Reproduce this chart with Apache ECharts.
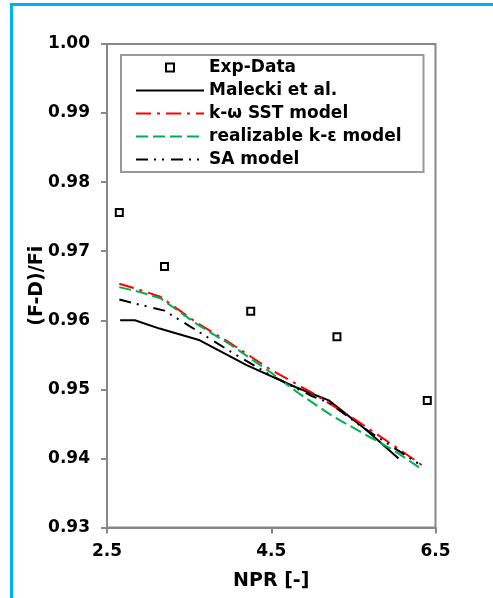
<!DOCTYPE html>
<html>
<head>
<meta charset="utf-8">
<title>(F-D)/Fi vs NPR</title>
<script src="https://cdn.jsdelivr.net/npm/echarts@6/dist/echarts.min.js"></script>
<style>
  html, body { margin: 0; padding: 0; background: #fff; overflow: hidden; }
  #frame { position: absolute; left: 10px; top: 3px; width: 520px; height: 640px;
           border: 3px solid #00b0f0; box-sizing: border-box; pointer-events: none; z-index: 2; }
  #chart { position: absolute; left: 0; top: 0; width: 493px; height: 598px; }
</style>
</head>
<body>
<div id="chart"></div>
<div id="frame"></div>
<script>
// Axis ticks
const xTicks = [2.5, 4.5, 6.5];
const yMin = 0.93, yMax = 1.00, yStep = 0.01;

// Experimental data
const expNPR    = [2.65, 3.2, 4.25, 5.3, 6.4];
const expThrust = [0.9756, 0.9678, 0.9613, 0.9576, 0.9484];

// Malecki et al.
const maleckiNPR    = [2.66, 2.84, 3.14, 3.63, 4.2, 4.8, 5.2, 5.64, 6.05];
const maleckiThrust = [0.9600, 0.9600, 0.9588, 0.9571, 0.9535, 0.9503, 0.9484, 0.9443, 0.9400];

// k-omega SST model
const sstNPR    = [2.65, 2.9, 3.15, 3.6, 4.0, 4.5, 5.0, 5.5, 6.0, 6.35];
const sstThrust = [0.9653, 0.9644, 0.9634, 0.9596, 0.9567, 0.9528, 0.9495, 0.9458, 0.9418, 0.9389];

// realizable k-epsilon model
const rkeNPR    = [2.65, 2.9, 3.15, 3.6, 4.0, 4.5, 4.85, 5.25, 5.7, 6.0, 6.3];
const rkeThrust = [0.9648, 0.9641, 0.9632, 0.9594, 0.9565, 0.9524, 0.9493, 0.9461, 0.9431, 0.9411, 0.9387];

// Spalart-Allmaras model
const saNPR    = [2.65, 2.85, 3.2, 3.5, 4.0, 4.5, 5.0, 5.2, 5.6, 6.0, 6.35];
const saThrust = [0.9630, 0.9624, 0.9614, 0.9592, 0.9555, 0.9520, 0.9490, 0.9481, 0.9446, 0.9415, 0.9388];

const seriesNames = ['Exp-Data', 'Malecki et al.', 'k-ω SST model', 'realizable k-ε model', 'SA model'];

const pair = (xs, ys) => xs.map((x, i) => [x, ys[i]]);

const FONT = '"DejaVu Sans", "Liberation Sans", Arial, sans-serif';
const AXIS_GRAY = '#878787';

const chart = echarts.init(document.getElementById('chart'), null, { renderer: 'canvas' });

chart.setOption({
  animation: false,
  backgroundColor: '#fff',
  textStyle: { fontFamily: FONT },
  grid: {
    left: 107, right: 57.5, top: 44, bottom: 70.5,
    show: true, borderColor: AXIS_GRAY, borderWidth: 2, backgroundColor: 'transparent'
  },
  legend: {
    orient: 'vertical',
    left: 121, top: 55,
    padding: [4, 22, 4, 14],
    borderColor: '#999', borderWidth: 2,
    backgroundColor: '#fff',
    itemWidth: 68, itemHeight: 10, itemGap: 6,
    itemTextGap: 10,
    textStyle: { fontFamily: FONT, fontSize: 17, fontWeight: 'bold', color: '#000', lineHeight: 17 },
    data: [
      { name: seriesNames[0] },
      { name: seriesNames[1], itemStyle: { opacity: 0 } },
      { name: seriesNames[2], itemStyle: { opacity: 0 } },
      { name: seriesNames[3], itemStyle: { opacity: 0 } },
      { name: seriesNames[4], itemStyle: { opacity: 0 } }
    ]
  },
  xAxis: {
    type: 'value',
    min: xTicks[0], max: xTicks[xTicks.length - 1],
    name: 'NPR [-]',
    nameLocation: 'middle', nameGap: 44, nameMoveOverlap: false,
    nameTextStyle: { fontFamily: FONT, fontSize: 19, fontWeight: 'bold', color: '#000' },
    axisLine: { lineStyle: { color: AXIS_GRAY, width: 2 } },
    axisTick: { show: true, inside: false, length: 6, lineStyle: { color: AXIS_GRAY, width: 2 }, customValues: xTicks },
    axisLabel: {
      customValues: xTicks, margin: 16,
      fontFamily: FONT, fontSize: 17, fontWeight: 'bold', color: '#000',
      formatter: v => v.toFixed(1)
    },
    splitLine: { show: false }
  },
  yAxis: {
    type: 'value',
    min: yMin, max: yMax, interval: yStep,
    name: '(F-D)/Fi',
    nameLocation: 'middle', nameGap: 60, nameRotate: 90, nameMoveOverlap: false,
    nameTextStyle: { fontFamily: FONT, fontSize: 19, fontWeight: 'bold', color: '#000' },
    axisLine: { show: true, lineStyle: { color: AXIS_GRAY, width: 2 } },
    axisTick: { show: true, inside: false, length: 6, lineStyle: { color: AXIS_GRAY, width: 2 } },
    axisLabel: {
      margin: 17,
      fontFamily: FONT, fontSize: 17, fontWeight: 'bold', color: '#000',
      formatter: v => v.toFixed(2)
    },
    splitLine: { show: false }
  },
  series: [
    {
      name: seriesNames[0], type: 'line',
      data: pair(expNPR, expThrust),
      symbol: 'rect', symbolSize: 7, showSymbol: true,
      itemStyle: { color: '#fff', borderColor: '#000', borderWidth: 2 },
      lineStyle: { width: 0, opacity: 0 },
      z: 5
    },
    {
      name: seriesNames[1], type: 'line',
      data: pair(maleckiNPR, maleckiThrust),
      symbol: 'none',
      lineStyle: { color: '#000', width: 2, type: 'solid' },
      itemStyle: { color: '#000' }
    },
    {
      name: seriesNames[2], type: 'line',
      data: pair(sstNPR, sstThrust),
      symbol: 'none',
      lineStyle: { color: '#ff0000', width: 2, type: [15, 6, 3, 6] },
      itemStyle: { color: '#ff0000' }
    },
    {
      name: seriesNames[3], type: 'line',
      data: pair(rkeNPR, rkeThrust),
      symbol: 'none',
      lineStyle: { color: '#00b050', width: 2, type: [12, 5] },
      itemStyle: { color: '#00b050' }
    },
    {
      name: seriesNames[4], type: 'line',
      data: pair(saNPR, saThrust),
      symbol: 'none',
      lineStyle: { color: '#000', width: 2, type: [12, 6, 2, 6, 2, 7] },
      itemStyle: { color: '#000' }
    }
  ]
});
</script>
</body>
</html>
